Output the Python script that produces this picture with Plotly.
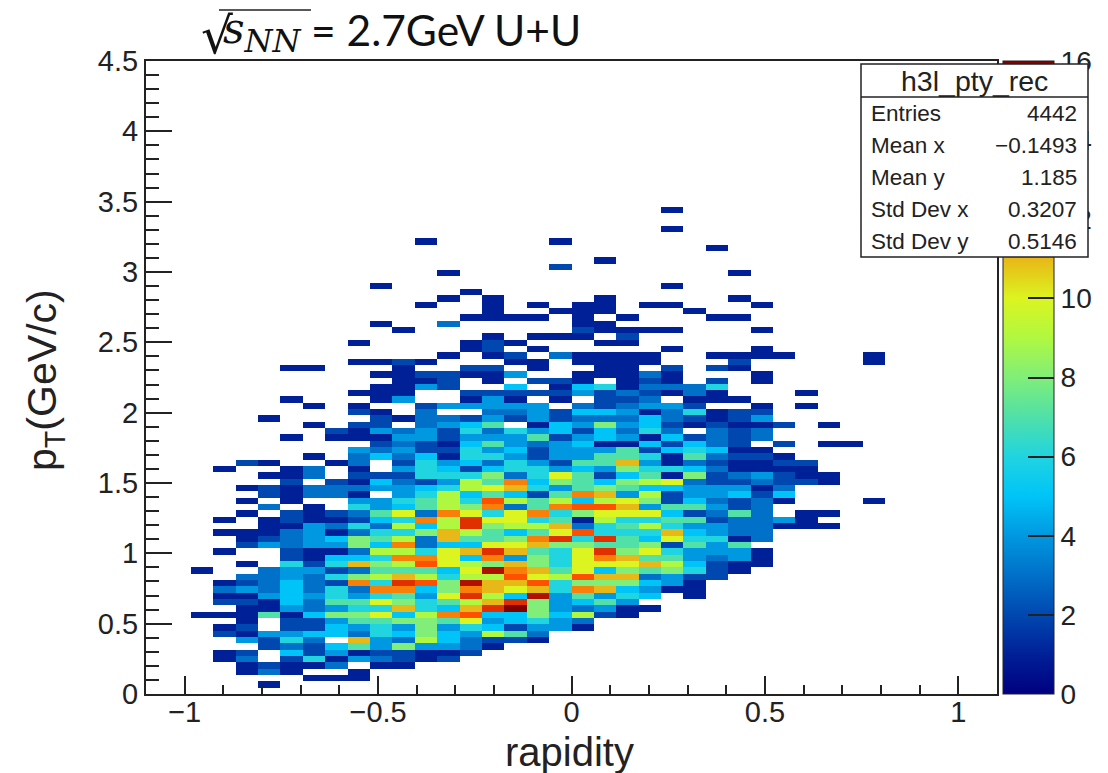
import plotly.graph_objects as go

# Bin counts per rapidity column; each list runs upward from the lowest pT bin. 0 = empty bin.
col_02 = [0,0,0,0,0,0,0,0,0,0,0,0,1,0,0,0,0,0,0,1]
col_03 = [0,0,0,0,0,1,1,0,0,2,1,0,1,0,2,1,3,1,0,0,0,0,1,0,0,1,0,1,0,0,0,0,0,0,0,1]
col_04 = [0,0,0,1,1,3,2,0,4,1,2,1,1,1,2,1,4,2,3,0,1,0,0,2,1,1,0,0,1,0,1,0,1,0,0,0,2]
col_05 = [0,1,0,3,2,0,0,2,2,4,0,0,7,1,1,4,3,3,3,3,0,0,0,4,2,1,1,1,0,3,0,2,2,0,1,0,1,0,0,0,0,0,0,1]
col_06 = [0,0,0,1,1,2,5,3,6,4,2,2,1,4,5,5,5,5,4,4,6,2,2,3,3,3,1,2,2,0,1,1,1,2,1,1,0,0,0,0,1,0,0,0,0,0,1,0,0,0,0,1]
col_07 = [0,0,1,0,1,6,2,2,3,5,2,2,5,3,3,4,3,3,3,4,2,1,1,4,4,4,4,1,1,1,0,3,3,0,3,3,0,1,0,0,0,0,1,0,0,1,0,0,0,0,0,1]
col_08 = [0,0,1,0,3,1,4,5,0,5,5,4,8,4,7,6,6,2,6,2,6,5,1,4,5,1,3,1,2,0,0,3,3,2,0,0,1,0,0,0,1,2]
col_09 = [0,0,1,1,0,4,1,7,11,3,4,7,8,6,7,4,3,12,8,3,11,5,3,8,8,3,6,2,3,6,4,1,3,1,2,1,3,3,4,0,1,1,2,0,2,1,0,1,0,0,0,0,1,0,0,1]
col_10 = [0,0,0,0,1,3,2,4,4,6,6,7,10,6,10,6,12,6,9,7,8,6,9,5,7,6,3,5,7,4,4,0,4,5,2,0,0,5,3,2,1,4,2,2,1,0,1,1,1,0,1,0,1,0,0,0,0,0,1,0,0,0,0,0,1]
col_11 = [0,0,0,0,1,2,2,8,3,5,4,8,5,11,8,7,12,14,11,7,9,12,9,12,9,6,9,6,10,5,6,4,4,3,2,4,2,3,4,3,4,3,0,1,0,0,4,1,1,1,1,1,2,0,0,0,0,1]
col_12 = [0,0,0,0,0,1,1,4,9,8,8,8,9,6,6,4,5,13,9,7,13,12,6,3,3,8,5,12,3,7,7,6,5,2,6,6,6,5,2,2,4,4,3,3,3,2,0,0,4,1,2,0,1,0,0,0,0,0,0,0,0,1,0,0,0,0,0,0,0,0,0,1]
col_13 = [0,0,0,0,0,2,1,4,5,5,4,7,12,5,7,10,8,8,6,5,10,10,10,5,11,11,9,9,12,9,9,9,6,4,6,5,4,1,2,1,2,2,4,3,0,4,0,0,2,2,2,0,0,1,0,0,0,0,3,0,0,0,1,0,0,0,1]
col_14 = [0,0,0,0,0,0,2,3,3,4,6,10,13,11,9,14,12,15,9,10,9,5,11,5,7,9,14,14,10,8,6,5,9,9,6,2,5,6,6,5,4,6,5,2,0,4,1,2,0,0,1,2,0,0,1,1,0,0,0,1,0,0,0,1]
col_15 = [0,0,0,0,0,0,0,1,2,9,5,4,5,14,11,9,11,11,9,15,8,12,14,10,7,7,8,10,6,12,13,7,10,7,8,5,3,6,4,7,4,3,7,4,3,4,4,2,0,1,1,2,0,1,2,2,1,0,0,1,1,1,1]
col_16 = [0,0,0,0,0,0,0,0,2,7,2,5,5,16,14,5,10,11,13,12,11,4,11,10,8,5,9,10,10,3,9,5,11,12,3,6,6,4,5,4,4,6,0,2,3,4,1,2,5,0,4,0,1,2,0,1,0,0,0,1]
col_17 = [0,0,0,0,0,0,0,0,1,3,4,6,8,8,8,15,11,13,10,11,8,8,7,11,12,7,9,6,12,7,7,2,6,5,6,6,4,2,2,3,7,4,1,4,4,4,0,2,0,2,0,1,1,0,1,0,1,0,0,1,0,1]
col_18 = [0,0,0,0,0,0,0,0,0,0,4,4,5,4,4,4,6,6,9,7,6,6,6,8,14,10,11,7,6,12,9,7,4,8,10,4,2,4,4,4,2,5,5,2,2,0,1,2,1,2,0,0,0,3,0,0,1,0,0,0,1,0,0,0,0,0,0,2,0,0,0,1]
col_19 = [0,0,0,0,0,0,0,0,0,0,1,3,9,3,5,7,12,8,13,10,10,10,10,8,6,13,3,1,8,13,5,12,7,7,7,5,7,4,4,5,4,2,4,3,5,3,0,4,5,1,1,0,1,1,0,0,1,2,1,1,1,1]
col_20 = [0,0,0,0,0,0,0,0,0,0,0,0,2,4,7,4,11,8,11,5,10,12,14,7,14,6,6,9,10,13,9,11,8,5,2,4,7,7,4,1,5,5,8,3,5,2,2,2,6,0,1,1,1,1,0,1,0,1,1,0,1,1,1,0,0,0,0,0,1]
col_21 = [0,0,0,0,0,0,0,0,0,0,0,0,1,1,4,6,5,8,11,8,10,11,8,7,7,6,7,6,10,11,10,4,7,8,5,8,11,7,7,1,4,3,4,3,4,3,2,3,1,1,1,1,1,1,0,1,2,1,0,1]
col_22 = [0,0,0,0,0,0,0,0,0,0,0,0,0,1,0,5,4,5,3,7,11,7,10,8,5,6,9,6,10,4,8,9,5,9,7,6,4,6,2,5,1,6,5,5,1,4,3,2,3,2,3,0,1,1,0,0,0,1,0,0,0,1]
col_23 = [0,0,0,0,0,0,0,0,0,0,0,0,0,0,0,0,1,4,4,8,9,7,6,2,10,11,6,7,5,7,2,2,5,10,1,6,1,1,5,2,5,3,2,3,3,4,0,1,3,1,1,2,0,0,1,0,0,1,0,0,0,1,0,0,1,0,0,0,0,0,0,0,0,1,0,0,1]
col_24 = [0,0,0,0,0,0,0,0,0,0,0,0,0,0,0,1,1,1,2,6,5,4,4,7,6,5,4,7,2,7,5,4,4,3,8,5,3,7,6,5,2,0,1,2,6,2,1,3,3,0,0,0,0,0,0,0,0,0,0,0,1]
col_25 = [0,0,0,0,0,0,0,0,0,0,0,0,0,0,0,0,0,0,2,2,2,3,4,4,6,4,4,2,3,4,3,4,4,2,2,3,2,3,5,3,3,3,2,1,1,0,1,1,6,2,0,2,0,1,0,0,0,0,0,1,0,0,0,0,0,0,0,0,0,0,1]
col_26 = [0,0,0,0,0,0,0,0,0,0,0,0,0,0,0,0,0,0,0,1,1,4,4,7,1,3,3,3,7,2,2,5,4,2,3,1,1,2,1,2,2,2,1,2,2,0,1,0,0,0,0,1,2,1,0,0,0,0,0,1,0,0,1,0,0,0,1]
col_27 = [0,0,0,0,0,0,0,0,0,0,0,0,0,0,0,0,0,0,0,0,1,1,1,0,3,3,3,3,3,3,3,2,1,3,4,1,1,2,1,0,3,3,1,4,2,1,0,0,0,1,1,0,0,1,1,0,0,1,0,0,0,1]
col_28 = [0,0,0,0,0,0,0,0,0,0,0,0,0,0,0,0,0,0,0,0,0,0,0,0,0,0,1,4,0,0,1,5,3,2,2,1,2,1,0,2,0,0,2,0,0,0,0,0,0,0,0,0,0,1]
col_29 = [0,0,0,0,0,0,0,0,0,0,0,0,0,0,0,0,0,0,0,0,0,0,0,0,0,0,1,1,1,0,0,0,0,2,1,1,2,0,0,0,0,0,0,0,0,1,0,1]
col_30 = [0,0,0,0,0,0,0,0,0,0,0,0,0,0,0,0,0,0,0,0,0,0,0,0,0,0,1,0,1,0,0,0,0,1,1,0,0,0,0,1,0,0,1]
col_31 = [0,0,0,0,0,0,0,0,0,0,0,0,0,0,0,0,0,0,0,0,0,0,0,0,0,0,0,0,0,0,0,0,0,0,0,0,0,0,0,1]
col_32 = [0,0,0,0,0,0,0,0,0,0,0,0,0,0,0,0,0,0,0,0,0,0,0,0,0,0,0,0,0,0,1,0,0,0,0,0,0,0,0,0,0,0,0,0,0,0,0,0,0,0,0,0,1,1]

columns = {2: col_02, 3: col_03, 4: col_04, 5: col_05, 6: col_06, 7: col_07, 8: col_08, 9: col_09,
           10: col_10, 11: col_11, 12: col_12, 13: col_13, 14: col_14, 15: col_15, 16: col_16,
           17: col_17, 18: col_18, 19: col_19, 20: col_20, 21: col_21, 22: col_22, 23: col_23,
           24: col_24, 25: col_25, 26: col_26, 27: col_27, 28: col_28, 29: col_29, 30: col_30,
           31: col_31, 32: col_32}

n_x_bins = 38
n_y_bins = 100
x_range = [-1.1, 1.1]
y_range = [0, 4.5]

palette_values = [0, 1, 2, 3, 4, 5, 6, 7, 8, 9, 10, 11, 12, 13, 14, 15, 16]
palette_colors = ["#000080", "#002098", "#0048b0", "#0070c8", "#0098e0", "#00c4f8", "#20d4e0",
                  "#50e0a8", "#80ee78", "#b0f840", "#dcf420", "#e8b818", "#f88008", "#ff5000",
                  "#e03000", "#b01000", "#800000"]

cbar_ticks = [0, 2, 4, 6, 8, 10, 12, 14, 16]
stats_title = "h3l_pty_rec"
stats_names = ["Entries", "Mean x", "Mean y", "Std Dev x", "Std Dev y"]
stats_values = ["4442", "\u22120.1493", "1.185", "0.3207", "0.5146"]

L, R, T, B = 146, 997, 61, 694
W, H = 1108, 773
MARGIN_R = 16
PAPER_W = W - MARGIN_R - L


def fx(px):
    return (px - L) / PAPER_W


def fy(py):
    return (B - py) / (B - T)


z = [[None] * n_x_bins for _ in range(n_y_bins)]
for k, values in columns.items():
    for i, v in enumerate(values):
        if v:
            z[i][k] = v

dx = (x_range[1] - x_range[0]) / n_x_bins
dy = (y_range[1] - y_range[0]) / n_y_bins
scale = [[v / palette_values[-1], c] for v, c in zip(palette_values, palette_colors)]

fig = go.Figure(go.Heatmap(
    z=z, x0=x_range[0] + dx / 2, dx=dx, y0=y_range[0] + dy / 2, dy=dy,
    colorscale=scale, zmin=0, zmax=16, hoverongaps=False,
    colorbar=dict(
        xref="container", x=1003 / W, xanchor="left", xpad=0, ypad=0, y=0, yanchor="bottom",
        len=1, lenmode="fraction", thickness=51, thicknessmode="pixels",
        tickmode="array", tickvals=cbar_ticks, ticks="inside", ticklen=26, tickwidth=1.5,
        tickcolor="#222", outlinecolor="#222", outlinewidth=1,
        tickfont=dict(family="Liberation Sans", size=28, color="#222"),
    ),
))

axis_common = dict(showgrid=False, zeroline=False, showline=True, linecolor="#222", linewidth=2,
                   mirror=True, ticks="inside", tickcolor="#222", tickwidth=1.5,
                   tickfont=dict(family="Liberation Sans", size=29, color="#222"))

fig.update_layout(
    width=W, height=H, autosize=False,
    margin=dict(l=L, r=MARGIN_R, t=T, b=H - B, pad=0, autoexpand=False),
    plot_bgcolor="white", paper_bgcolor="white",
    xaxis=dict(domain=[0, fx(R)], range=x_range, tickmode="array", tickvals=[-1, -0.5, 0, 0.5, 1],
               ticktext=["\u22121", "\u22120.5", "0", "0.5", "1"], ticklen=18, ticklabelstandoff=-9,
               minor=dict(dtick=0.1, ticks="inside", ticklen=9, tickcolor="#222", tickwidth=1.5),
               **axis_common),
    yaxis=dict(range=y_range, tickmode="array", tickvals=[0, 0.5, 1, 1.5, 2, 2.5, 3, 3.5, 4, 4.5],
               ticktext=["0", "0.5", "1", "1.5", "2", "2.5", "3", "3.5", "4", "4.5"], ticklen=26,
               minor=dict(dtick=0.1, ticks="inside", ticklen=13, tickcolor="#222", tickwidth=1.5),
               **axis_common),
)

shapes = [
    dict(type="rect", xref="paper", yref="paper", x0=fx(861), x1=fx(1088), y0=fy(64), y1=fy(257),
         fillcolor="white", line=dict(color="#222", width=1.5), layer="above"),
    dict(type="line", xref="paper", yref="paper", x0=fx(861), x1=fx(1088), y0=fy(97), y1=fy(97),
         line=dict(color="#222", width=1.5), layer="above"),
    dict(type="line", xref="paper", yref="paper", x0=fx(219), x1=fx(311), y0=fy(10), y1=fy(10),
         line=dict(color="#222", width=1.5), layer="above"),
]
fig.update_layout(shapes=shapes)

sans = "Liberation Sans"
ann = []


def text(s, px, py, size, family=sans, xanchor="left", angle=0, color="#222"):
    ann.append(dict(text=s, xref="paper", yref="paper", x=fx(px), y=fy(py), showarrow=False,
                    xanchor=xanchor, yanchor="middle", textangle=angle, align=xanchor,
                    font=dict(family=family, size=size, color=color)))


text(stats_title, 974, 81, 28.5, xanchor="center")
for j, (n, v) in enumerate(zip(stats_names, stats_values)):
    text(n, 869, 113 + 32 * j, 22.5)
    text(v, 1079, 113 + 32 * j, 22.5, xanchor="right")

text("\u221a", 199, 36, 50, family="DejaVu Sans", color="#111")
text("<i>s<sub><span style=\"font-size:32px\">NN</span></sub></i>", 221, 32, 42, family="DejaVu Serif", color="#111")
text("= 2.7GeV U+U", 309, 30, 42.5, family="Lato", color="#111")

text("rapidity", 569, 752, 40, xanchor="center")
text("p<sub>T</sub>(GeV/c)", 45, 380, 41, xanchor="center", angle=-90)
fig.update_layout(annotations=ann)

# Put the colour bar underneath the statistics box, as in the reference.
post = """
document.body.style.margin='0';
var cb=document.querySelector('.infolayer .colorbar');
var up=document.querySelector('.layer-above');
if(cb&&up){up.parentNode.insertBefore(cb,up);}
"""
fig.write_html("out.html", post_script=post, config={"displayModeBar": False})
